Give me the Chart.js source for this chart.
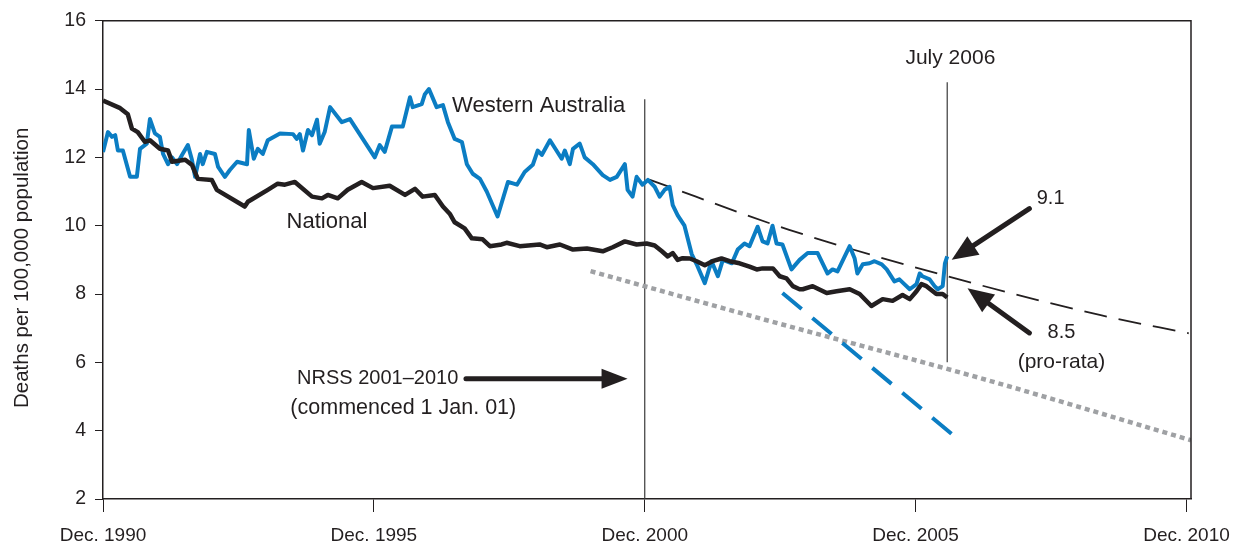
<!DOCTYPE html>
<html>
<head>
<meta charset="utf-8">
<script src="https://cdn.jsdelivr.net/npm/chart.js@4.4.1/dist/chart.umd.min.js"></script>
<style>
  html, body { margin: 0; padding: 0; background: #fff; }
</style>
</head>
<body>
<canvas id="roadChart" width="1243" height="550"></canvas>
<script>
// x values are months counted from Dec. 1990
const xTickMonths = [0, 60, 120, 180, 240];
const xTickLabels = ['Dec. 1990', 'Dec. 1995', 'Dec. 2000', 'Dec. 2005', 'Dec. 2010'];

const nationalMonths = [0, 3.8, 5.5, 6.4, 7.7, 9.3, 10.4, 12.6, 14.4, 15.3, 18.2, 19.7, 21.0, 24.1, 25.2, 31.4, 32.1,
  36.5, 38.7, 40.3, 42.5, 46.3, 48.5, 49.8, 52.0, 54.2, 57.3, 59.8, 63.5, 66.9, 69.1, 70.8, 73.5, 75.3, 76.8, 77.9,
  80.1, 81.7, 84.1, 85.7, 88.3, 89.4, 92.3, 96.7, 98.3, 101.2, 104.1, 107.2, 110.7, 112.9, 115.6, 118.2, 120.4,
  122.2, 123.8, 125.1, 126.2, 127.3, 128.4, 130.0, 131.5, 133.3, 135.0, 137.0, 138.8, 141.0, 143.2, 144.8, 146.1,
  148.4, 149.9, 151.4, 152.8, 154.3, 155.0, 157.2, 160.3, 162.5, 165.4, 167.6, 170.2, 172.7, 174.9, 177.1, 178.7,
  180.2, 181.3, 182.4, 184.6, 186.0, 187.0];
const nationalRates = [13.66, 13.44, 13.26, 12.84, 12.74, 12.45, 12.5, 12.25, 12.2, 11.87, 11.93, 11.78, 11.37, 11.34, 11.05, 10.56, 10.7,
  11.05, 11.23, 11.2, 11.28, 10.85, 10.8, 10.9, 10.8, 11.05, 11.28, 11.1, 11.17, 10.9, 11.08, 10.85, 10.9, 10.56, 10.35, 10.1,
  9.92, 9.63, 9.6, 9.4, 9.45, 9.5, 9.4, 9.45, 9.37, 9.45, 9.3, 9.33, 9.25, 9.37, 9.54, 9.45, 9.48,
  9.42, 9.25, 9.1, 9.2, 9.0, 9.05, 9.04, 8.96, 8.84, 8.96, 9.04, 8.96, 8.9, 8.8, 8.72, 8.75,
  8.75, 8.52, 8.46, 8.23, 8.14, 8.14, 8.23, 8.03, 8.08, 8.14, 8.0, 7.65, 7.85, 7.8, 7.97, 7.85,
  8.08, 8.29, 8.23, 8.0, 8.0, 7.9];

const waMonths = [0, 1.1, 2.0, 2.7, 3.3, 4.4, 6.0, 7.5, 8.2, 9.7, 10.4, 11.5, 12.6, 13.3, 14.4, 15.3, 16.4, 17.5, 18.8,
  19.7, 20.4, 21.5, 22.1, 23.0, 24.8, 25.5, 27.0, 28.1, 29.7, 31.9, 32.3, 33.4, 34.3, 35.4, 36.5, 39.2, 42.1, 42.9,
  43.6, 44.3, 45.4, 46.3, 47.4, 48.0, 49.1, 50.3, 52.9, 54.7, 60.2, 61.3, 62.4, 64.0, 66.4, 68.0, 68.6, 70.6, 71.3,
  72.2, 73.9, 75.3, 76.4, 77.9, 79.5, 80.6, 81.9, 83.5, 85.0, 87.4, 89.7, 91.7, 93.4, 95.2, 96.3, 97.2, 99.0, 101.6,
  102.3, 103.4, 104.1, 105.6, 106.7, 108.5, 110.7, 112.3, 113.8, 115.6, 116.2, 117.3, 118.2, 119.5, 120.7, 122.2,
  123.3, 124.4, 125.5, 126.2, 127.3, 128.8, 130.4, 131.5, 133.3, 134.8, 136.2, 137.3, 139.3, 140.6, 142.1, 143.2,
  145.0, 146.1, 147.2, 148.3, 149.2, 150.5, 152.5, 154.3, 156.1, 158.3, 159.4, 160.5, 161.6, 162.7, 164.3, 165.4,
  166.5, 167.1, 168.3, 169.8, 170.9, 172.5, 173.6, 175.3, 176.4, 177.5, 178.7, 180.2, 180.9, 181.5, 183.1, 184.2,
  184.9, 186.0, 186.5, 187.0];
const waRates = [12.16, 12.74, 12.6, 12.65, 12.2, 12.2, 11.43, 11.43, 12.25, 12.4, 13.12, 12.7, 12.6, 12.1, 11.8, 12.0, 11.8, 12.07, 12.36,
  11.93, 11.43, 12.1, 11.8, 12.16, 12.1, 11.72, 11.43, 11.63, 11.87, 11.8, 12.8, 11.96, 12.25, 12.1, 12.5, 12.7, 12.68, 12.54,
  12.68, 12.2, 12.8, 12.65, 13.1, 12.4, 12.74, 13.47, 13.03, 13.12, 12.0, 12.36, 12.16, 12.9, 12.9, 13.76, 13.47, 13.56, 13.85,
  14.0, 13.47, 13.53, 13.03, 12.54, 12.45, 11.8, 11.52, 11.37, 11.0, 10.27, 11.28, 11.2, 11.57, 11.78, 12.2, 12.07, 12.5, 11.96,
  12.2, 11.8, 12.25, 12.4, 12.0, 11.8, 11.48, 11.34, 11.43, 11.8, 11.05, 10.85, 11.43, 11.2, 11.34, 11.14,
  10.85, 11.05, 11.14, 10.6, 10.3, 10.0, 9.17, 8.87, 8.32, 8.96, 8.52, 9.0, 8.9, 9.3, 9.48, 9.4,
  9.97, 9.54, 9.48, 10.0, 9.48, 9.45, 8.72, 9.0, 9.2, 9.2, 8.9, 8.6, 8.72, 8.66, 9.1, 9.4,
  9.04, 8.6, 8.87, 8.9, 8.96, 8.87, 8.72, 8.37, 8.43, 8.29, 8.14, 8.29, 8.6, 8.52, 8.43, 8.23,
  8.14, 8.23, 8.9, 9.1];

// projected trend from the national rate in Dec. 2000
const trendMonths = [121, 152, 189, 221, 240.5];
const trendRates = [11.35, 9.88, 8.45, 7.38, 6.85];
// grey dotted target path
const targetMonths = [108, 146, 194, 241];
const targetRates = [8.67, 7.27, 5.55, 3.72];
// WA projection
const waTrendMonths = [150.5, 190.2];
const waTrendRates = [8.03, 3.66];

const INK = '#231f20';
const BLUE = '#0b7dc3';
const FONT = '"Liberation Sans", Arial, sans-serif';

const pts = (xs, ys) => xs.map((x, i) => ({ x, y: ys[i] }));

function drawArrow(ctx, x1, y1, x2, y2, width, headLen, headHalf) {
  const ang = Math.atan2(y2 - y1, x2 - x1);
  const bx = x2 - Math.cos(ang) * headLen;
  const by = y2 - Math.sin(ang) * headLen;
  ctx.lineWidth = width;
  ctx.lineCap = 'round';
  ctx.beginPath();
  ctx.moveTo(x1, y1);
  ctx.lineTo(bx + Math.cos(ang) * 2, by + Math.sin(ang) * 2);
  ctx.stroke();
  ctx.beginPath();
  ctx.moveTo(x2, y2);
  ctx.lineTo(bx - Math.sin(ang) * headHalf, by + Math.cos(ang) * headHalf);
  ctx.lineTo(bx + Math.sin(ang) * headHalf, by - Math.cos(ang) * headHalf);
  ctx.closePath();
  ctx.fill();
}

const overlay = {
  id: 'overlay',
  beforeDatasetsDraw(chart) {
    const { ctx, chartArea: a, scales: { x, y } } = chart;
    ctx.save();
    ctx.strokeStyle = '#3a3a3a';
    ctx.lineWidth = 1.2;
    // NRSS start and July 2006 markers
    ctx.beginPath();
    ctx.moveTo(x.getPixelForValue(120), y.getPixelForValue(13.7));
    ctx.lineTo(x.getPixelForValue(120), a.bottom);
    ctx.moveTo(x.getPixelForValue(187), y.getPixelForValue(14.2));
    ctx.lineTo(x.getPixelForValue(187), y.getPixelForValue(6.0));
    ctx.stroke();
    ctx.restore();
  },
  afterDatasetsDraw(chart) {
    const { ctx, chartArea: a, scales: { x, y } } = chart;
    ctx.save();
    // frame on top and right
    ctx.strokeStyle = INK;
    ctx.lineWidth = 1.5;
    ctx.beginPath();
    ctx.moveTo(a.left, a.top);
    ctx.lineTo(a.right, a.top);
    ctx.lineTo(a.right, a.bottom);
    ctx.stroke();

    ctx.fillStyle = INK;
    ctx.textBaseline = 'middle';

    // y axis title
    ctx.save();
    ctx.translate(22, (a.top + a.bottom) / 2 + 8);
    ctx.rotate(-Math.PI / 2);
    ctx.font = '20.5px ' + FONT;
    ctx.textAlign = 'center';
    ctx.fillText('Deaths per 100,000 population', 0, 0);
    ctx.restore();

    const label = (txt, mx, v, size, align) => {
      ctx.font = size + 'px ' + FONT;
      ctx.textAlign = align || 'center';
      ctx.fillText(txt, x.getPixelForValue(mx), y.getPixelForValue(v));
    };
    label('Western Australia', 96.5, 13.5, 22);
    label('National', 49.6, 10.12, 22);
    label('July 2006', 187.7, 14.9, 21);
    label('9.1', 209.9, 10.79, 20);
    label('8.5', 212.3, 6.86, 20);
    label('(pro-rata)', 212.3, 6.0, 21);
    label('NRSS 2001\u20132010', 43, 5.52, 20, 'left');
    label('(commenced 1 Jan. 01)', 41.5, 4.65, 21.5, 'left');

    ctx.strokeStyle = INK;
    drawArrow(ctx, x.getPixelForValue(80.4), y.getPixelForValue(5.52),
      x.getPixelForValue(116.2), y.getPixelForValue(5.52), 5, 26, 10);
    drawArrow(ctx, x.getPixelForValue(205.2), y.getPixelForValue(10.5),
      x.getPixelForValue(188), y.getPixelForValue(9.0), 5, 26, 11);
    drawArrow(ctx, x.getPixelForValue(205.2), y.getPixelForValue(6.86),
      x.getPixelForValue(191.5), y.getPixelForValue(8.17), 5, 26, 11);
    ctx.restore();
  }
};

new Chart(document.getElementById('roadChart').getContext('2d'), {
  type: 'line',
  data: {
    datasets: [
      { data: pts(nationalMonths, nationalRates), borderColor: INK, borderWidth: 4.5 },
      { data: pts(waMonths, waRates), borderColor: BLUE, borderWidth: 4 },
      { data: pts(trendMonths, trendRates), borderColor: INK, borderWidth: 1.8, borderDash: [23, 12], cubicInterpolationMode: 'monotone' },
      { data: pts(waTrendMonths, waTrendRates), borderColor: BLUE, borderWidth: 4, borderDash: [25, 14] },
      { data: pts(targetMonths, targetRates), borderColor: '#9fa1a4', borderWidth: 4.5, borderDash: [5, 4], cubicInterpolationMode: 'monotone' }
    ]
  },
  options: {
    responsive: false,
    animation: false,
    devicePixelRatio: 1,
    layout: { padding: { top: 18, right: 52, left: 0, bottom: 0 } },
    plugins: { legend: { display: false }, tooltip: { enabled: false } },
    elements: {
      point: { radius: 0 },
      line: { borderJoinStyle: 'round', tension: 0 }
    },
    scales: {
      x: {
        type: 'linear',
        min: 0,
        max: 241,
        afterBuildTicks: s => { s.ticks = xTickMonths.map(v => ({ value: v })); },
        afterFit: s => { s.height = 51; },
        ticks: {
          callback: v => xTickLabels[xTickMonths.indexOf(v)],
          font: { family: FONT, size: 19 },
          color: INK,
          padding: 12,
          maxRotation: 0,
          autoSkip: false
        },
        grid: { drawOnChartArea: false, drawTicks: true, tickLength: 13, color: INK, lineWidth: 1 },
        border: { color: INK, width: 1.5 }
      },
      y: {
        min: 2,
        max: 16,
        afterFit: s => { s.width = 103; },
        ticks: {
          stepSize: 2,
          font: { family: FONT, size: 19.5 },
          color: INK,
          padding: 9
        },
        grid: { drawOnChartArea: false, drawTicks: true, tickLength: 8, color: INK, lineWidth: 1 },
        border: { color: INK, width: 1.5 }
      }
    }
  },
  plugins: [overlay]
});
</script>
</body>
</html>
